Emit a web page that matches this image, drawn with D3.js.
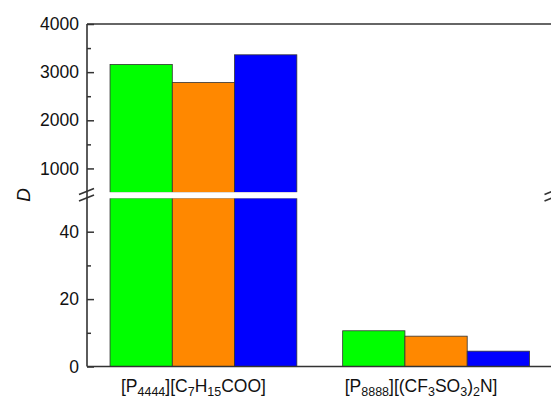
<!DOCTYPE html>
<html>
<head>
<meta charset="utf-8">
<script src="https://cdn.jsdelivr.net/npm/d3@7"></script>
<style>
  body { margin: 0; background: #fff; }
  svg text { font-family: Arial, "Liberation Sans", sans-serif; fill: #111; }
</style>
</head>
<body>
<svg id="chart" width="551" height="399"></svg>
<script>
// data
const categories = ["P4444", "P8888"];
const seriesColors = ["#00ff00", "#ff8800", "#0000ff"];
const valuesP4444 = [3160, 2785, 3360];
const valuesP8888 = [10.6, 9.0, 4.55];
const upperMajor = [1000, 2000, 3000, 4000];
const upperMinor = [1500, 2500, 3500];
const lowerMajor = [0, 20, 40];
const lowerMinor = [10, 30];

const svg = d3.select("#chart");
const plotLeft = 87, plotRight = 552.5, plotTop = 24, plotBottom = 366.5;
const breakTop = 192.5, breakBot = 198;

const yTop = d3.scaleLinear().domain([500, 4000]).range([breakTop, plotTop]);
const yBot = d3.scaleLinear().domain([0, 50]).range([plotBottom, breakBot]);

const x0 = d3.scaleBand().domain(categories).range([plotLeft, plotRight])
    .paddingInner(0.197).paddingOuter(0.099);
const x1 = d3.scaleBand().domain([0, 1, 2]).range([0, x0.bandwidth()]);

const rows = [valuesP4444, valuesP8888];

const bars = svg.append("g");
categories.forEach((c, ci) => {
    rows[ci].forEach((v, si) => {
        const bx = x0(c) + x1(si);
        // lower segment
        const yl = yBot(Math.min(v, 50));
        bars.append("rect")
            .attr("x", bx).attr("y", yl)
            .attr("width", x1.bandwidth()).attr("height", plotBottom - yl)
            .attr("fill", seriesColors[si])
            .attr("stroke", "#333").attr("stroke-width", 0.8);
        // upper segment
        if (v > 500) {
            const yu = yTop(Math.min(v, 4000));
            bars.append("rect")
                .attr("x", bx).attr("y", yu)
                .attr("width", x1.bandwidth()).attr("height", breakTop - yu)
                .attr("fill", seriesColors[si])
                .attr("stroke", "#333").attr("stroke-width", 0.8);
        }
    });
});

// white gap over the break
svg.append("rect")
    .attr("x", plotLeft + 1).attr("y", breakTop - 0.3)
    .attr("width", plotRight - plotLeft).attr("height", breakBot - breakTop + 0.6)
    .attr("fill", "#fff");

const axisStyle = g => {
    g.select(".domain").remove();
    g.selectAll("line").attr("stroke", "#333").attr("stroke-width", 1.5);
    g.selectAll("text").attr("font-size", 17.5).attr("fill", "#111");
};
const fmt = d3.format("d");

svg.append("g").attr("transform", `translate(${plotLeft},0)`)
    .call(d3.axisLeft(yTop).tickValues(upperMajor).tickFormat(fmt).tickSizeInner(-7).tickSizeOuter(0).tickPadding(8))
    .call(axisStyle);
svg.append("g").attr("transform", `translate(${plotLeft},0)`)
    .call(d3.axisLeft(yTop).tickValues(upperMinor).tickFormat("").tickSizeInner(-4).tickSizeOuter(0))
    .call(axisStyle);
svg.append("g").attr("transform", `translate(${plotLeft},0)`)
    .call(d3.axisLeft(yBot).tickValues(lowerMajor).tickFormat(fmt).tickSizeInner(-7).tickSizeOuter(0).tickPadding(8))
    .call(axisStyle);
svg.append("g").attr("transform", `translate(${plotLeft},0)`)
    .call(d3.axisLeft(yBot).tickValues(lowerMinor).tickFormat("").tickSizeInner(-4).tickSizeOuter(0))
    .call(axisStyle);

// frame
const frame = svg.append("g").attr("stroke", "#333").attr("stroke-width", 1.6).attr("fill", "none");
frame.append("line").attr("x1", plotLeft).attr("x2", plotLeft).attr("y1", plotTop).attr("y2", plotBottom);
frame.append("line").attr("x1", plotRight).attr("x2", plotRight).attr("y1", plotTop).attr("y2", plotBottom);
frame.append("line").attr("x1", plotLeft).attr("x2", plotRight).attr("y1", plotTop).attr("y2", plotTop);
frame.append("line").attr("x1", plotLeft).attr("x2", plotRight).attr("y1", plotBottom).attr("y2", plotBottom);

// break marks
[plotLeft, plotRight].forEach(ax => {
    [0, 6.5].forEach(dy => {
        frame.append("line")
            .attr("x1", ax - 8).attr("y1", 194.5 + dy)
            .attr("x2", ax + 7).attr("y2", 188.5 + dy);
    });
});

// y label
svg.append("text")
    .attr("transform", "translate(30,195) rotate(-90)")
    .attr("text-anchor", "middle")
    .attr("font-size", 19).attr("font-style", "italic")
    .text("D");

// x labels with subscripts (sit a little left of the bar groups)
const xLabels = [
    [["[P", false], ["4444", true], ["][C", false], ["7", true], ["H", false], ["15", true], ["COO]", false]],
    [["[P", false], ["8888", true], ["][(CF", false], ["3", true], ["SO", false], ["3", true], [")", false], ["2", true], ["N]", false]]
];
const labelShift = [-10, -15];
categories.forEach((c, ci) => {
    const t = svg.append("text")
        .attr("x", x0(c) + x0.bandwidth() / 2 + labelShift[ci]).attr("y", 392)
        .attr("text-anchor", "middle").attr("font-size", 17.5);
    let shifted = false;
    xLabels[ci].forEach(([s, sub]) => {
        let dy = 0;
        if (sub && !shifted) { dy = 4; shifted = true; }
        else if (!sub && shifted) { dy = -4; shifted = false; }
        t.append("tspan")
            .attr("font-size", sub ? 12.5 : 17.5)
            .attr("dy", dy)
            .text(s);
    });
});
</script>
</body>
</html>
